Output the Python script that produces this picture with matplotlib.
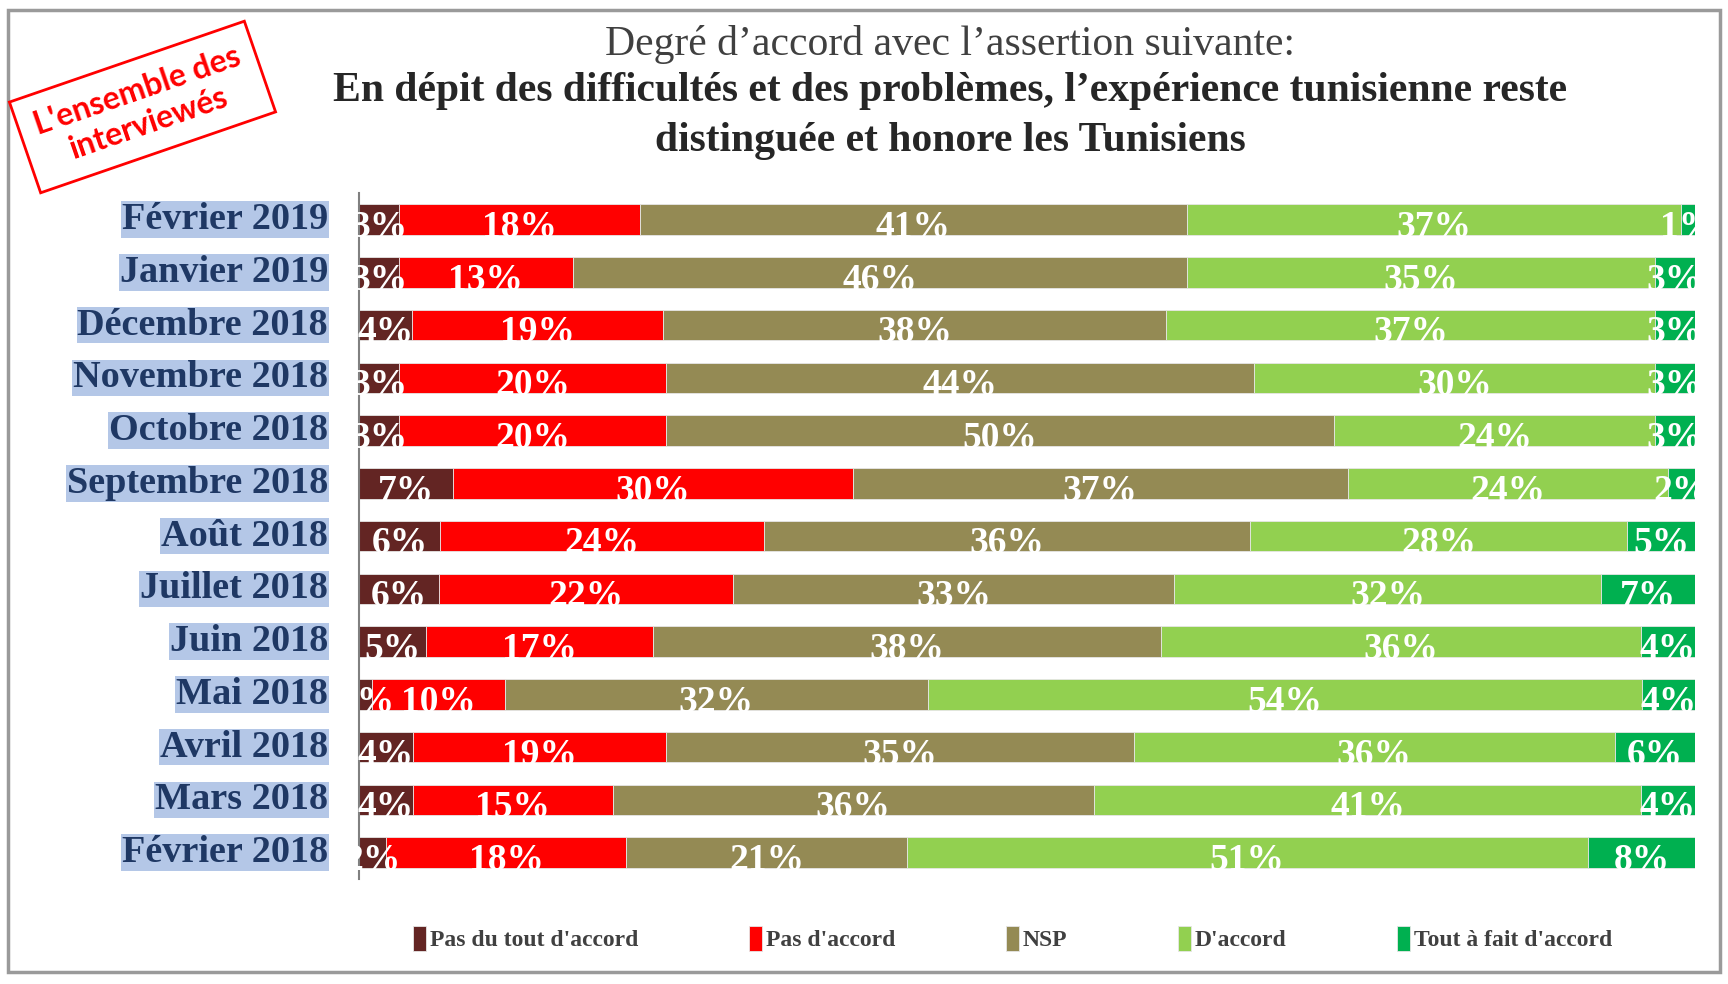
import numpy as np
import matplotlib.pyplot as plt
from matplotlib.patches import Rectangle

# Data (top row first)
months = ['Février 2019', 'Janvier 2019', 'Décembre 2018', 'Novembre 2018',
          'Octobre 2018', 'Septembre 2018', 'Août 2018', 'Juillet 2018',
          'Juin 2018', 'Mai 2018', 'Avril 2018', 'Mars 2018', 'Février 2018']
pas_du_tout = [3, 3, 4, 3, 3, 7, 6, 6, 5, 1, 4, 4, 2]
pas_accord = [18, 13, 19, 20, 20, 30, 24, 22, 17, 10, 19, 15, 18]
nsp = [41, 46, 38, 44, 50, 37, 36, 33, 38, 32, 35, 36, 21]
d_accord = [37, 35, 37, 30, 24, 24, 28, 32, 36, 54, 36, 41, 51]
tout_a_fait = [1, 3, 3, 3, 3, 2, 5, 7, 4, 4, 6, 4, 8]

series_names = ["Pas du tout d'accord", "Pas d'accord", 'NSP', "D'accord",
                "Tout à fait d'accord"]
colors = ['#632523', '#FF0000', '#948A54', '#92D050', '#00B050']

serif = 'Liberation Serif'

fig = plt.figure(figsize=(17.28, 9.84), dpi=100)
ax = fig.add_axes([0.2078, 0.1067, 0.773, 0.697])

values = np.array([pas_du_tout, pas_accord, nsp, d_accord, tout_a_fait], dtype=float)
# 100% stacked bars: each row is scaled to its total
shares = values / values.sum(axis=0) * 100
y = np.arange(len(months))
left = np.zeros(len(months))
handles = []
for k in range(len(series_names)):
    bars = ax.barh(y, shares[k], left=left, height=0.58, color=colors[k],
                   edgecolor='#e6e6e6', linewidth=0.6, label=series_names[k])
    handles.append(bars)
    for i in range(len(months)):
        # labels sit low, so their foot runs into the white gap like the original
        ax.text(left[i] + shares[k][i] / 2, y[i] + 0.33, f'{int(values[k][i])}%',
                ha='center', va='baseline', color='white', fontsize=27,
                fontweight='bold', family=serif)
    left += shares[k]

ax.set_xlim(0, 100)
ax.set_ylim(len(months) - 0.5, -0.5)
ax.set_xticks([])
ax.set_yticks([])
for s in ['top', 'right', 'bottom']:
    ax.spines[s].set_visible(False)
ax.spines['left'].set_color('#808080')
ax.spines['left'].set_linewidth(1.5)

# month labels with highlighted background
for i, m in enumerate(months):
    ax.text(-0.0232, y[i], m, transform=ax.get_yaxis_transform(), ha='right',
            va='center', fontsize=27.5, fontweight='bold', family=serif,
            color='#1F3864',
            bbox=dict(boxstyle='square,pad=0.02', fc='#B4C7E7', ec='none'))

# title
fig.text(0.55, 1 - 44 / 984, 'Degré d’accord avec l’assertion suivante:',
         ha='center', va='center', fontsize=30, family=serif, color='#404040')
fig.text(0.55, 1 - 91 / 984,
         'En dépit des difficultés et des problèmes, l’expérience tunisienne reste',
         ha='center', va='center', fontsize=30, family=serif, fontweight='bold',
         color='#262626')
fig.text(0.55, 1 - 141 / 984, 'distinguée et honore les Tunisiens',
         ha='center', va='center', fontsize=30, family=serif, fontweight='bold',
         color='#262626')

# stamp
fig.text(142.5 / 1728, 1 - 107 / 984, "L'ensemble des\ninterviewés",
         rotation=19, rotation_mode='anchor', ha='center', va='center',
         multialignment='center', fontsize=23, fontweight='bold', family='Lato',
         color='#FF0000', linespacing=1.25,
         bbox=dict(boxstyle='square,pad=0.5', fc='white', ec='#FF0000', lw=2))

# legend
fig.legend(handles, series_names, loc='center', bbox_to_anchor=(0.586, 0.046),
           ncol=5, frameon=False,
           prop=dict(family=serif, weight='bold', size=17), labelcolor='#404040',
           handlelength=0.55, handleheight=1.25, handletextpad=0.15,
           columnspacing=4.7)

# outer frame
fig.patches.append(Rectangle((8 / 1728, 12 / 984), 1712 / 1728, 962 / 984,
                             transform=fig.transFigure, fill=False,
                             ec='#9a9a9a', lw=2.5))

fig.savefig('out.png', dpi=100)
